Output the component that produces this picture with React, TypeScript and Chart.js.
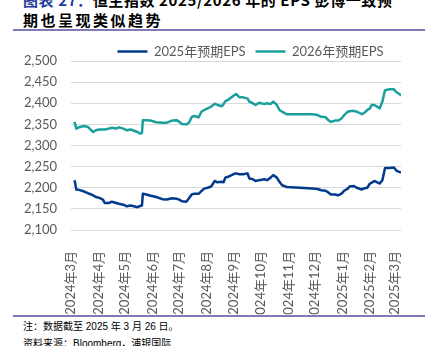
import React, { useEffect, useRef } from 'react';
import { Chart, registerables } from 'chart.js';

Chart.register(...registerables);

// days since 2024-03-01
const dayOffsets = [4, 6, 9, 15, 19, 23, 25, 28, 32, 36, 38, 43, 46, 51, 54, 59, 63, 67, 71, 75, 78, 80, 81, 85, 90, 96, 103, 108, 114, 119, 122, 125, 130, 133, 136, 139, 144, 147, 150, 154, 158, 162, 165, 170, 172, 174, 177, 181, 184, 186, 190, 194, 199, 201, 205, 208, 212, 218, 221, 225, 228, 232, 235, 238, 243, 258, 272, 278, 282, 287, 290, 293, 298, 301, 305, 308, 312, 314, 319, 322, 328, 331, 334, 337, 339, 342, 348, 351, 354, 359, 364, 367, 372];

const eps2025 = [2218, 2196, 2195, 2191, 2187, 2184, 2182, 2178, 2176, 2172, 2164, 2164, 2167, 2164, 2162, 2160, 2156, 2158, 2156, 2154, 2157, 2158, 2186, 2184, 2181, 2178, 2173, 2172, 2175, 2174, 2172, 2168, 2167, 2175, 2184, 2186, 2186, 2192, 2198, 2200, 2203, 2216, 2213, 2214, 2213, 2224, 2226, 2230, 2233, 2234, 2232, 2232, 2234, 2222, 2220, 2216, 2218, 2220, 2218, 2224, 2230, 2224, 2214, 2206, 2202, 2200, 2198, 2197, 2194, 2193, 2189, 2184, 2184, 2182, 2186, 2193, 2198, 2203, 2204, 2200, 2196, 2199, 2200, 2210, 2212, 2216, 2210, 2218, 2247, 2247, 2248, 2240, 2236];

const eps2026 = [2356, 2340, 2343, 2346, 2344, 2336, 2332, 2336, 2338, 2338, 2338, 2340, 2342, 2340, 2343, 2340, 2336, 2338, 2335, 2332, 2328, 2330, 2360, 2360, 2359, 2355, 2354, 2354, 2359, 2360, 2356, 2351, 2350, 2354, 2367, 2370, 2367, 2380, 2384, 2388, 2392, 2399, 2396, 2393, 2398, 2405, 2408, 2414, 2419, 2422, 2414, 2414, 2411, 2404, 2400, 2396, 2401, 2398, 2400, 2398, 2404, 2396, 2384, 2380, 2374, 2374, 2374, 2372, 2368, 2367, 2360, 2356, 2359, 2359, 2364, 2372, 2380, 2381, 2382, 2380, 2374, 2378, 2384, 2388, 2396, 2396, 2388, 2404, 2431, 2433, 2433, 2426, 2419];

const monthTickDays = [0, 31, 61, 92, 122, 153, 184, 214, 245, 275, 306, 337, 365];
const monthLabels = ['2024年3月', '2024年4月', '2024年5月', '2024年6月', '2024年7月', '2024年8月', '2024年9月', '2024年10月', '2024年11月', '2024年12月', '2025年1月', '2025年2月', '2025年3月'];

const seriesNames = ['2025年预期EPS', '2026年预期EPS'];

const FONT = "Lato, 'Noto Sans CJK SC', sans-serif";
const CJK = "'Noto Sans CJK SC', sans-serif";

export default function App() {
  const ref = useRef<HTMLCanvasElement>(null);

  useEffect(() => {
    if (!ref.current) return;
    const legendShift = {
      id: 'legendShift',
      afterLayout(chart: any) {
        const lg = chart.legend;
        if (lg) {
          lg.left = 100;
          lg.right = 401;
        }
      },
    };
    const chart = new Chart(ref.current, {
      type: 'line',
      data: {
        datasets: [
          {
            label: seriesNames[0],
            data: dayOffsets.map((d, i) => ({ x: d, y: eps2025[i] })),
            borderColor: '#003A8C',
            backgroundColor: '#003A8C',
            borderWidth: 2.5,
            pointRadius: 0,
            tension: 0,
            borderJoinStyle: 'round',
          },
          {
            label: seriesNames[1],
            data: dayOffsets.map((d, i) => ({ x: d, y: eps2026[i] })),
            borderColor: '#1AA09C',
            backgroundColor: '#1AA09C',
            borderWidth: 2.5,
            pointRadius: 0,
            tension: 0,
            borderJoinStyle: 'round',
          },
        ],
      },
      options: {
        animation: false,
        responsive: false,
        maintainAspectRatio: false,
        layout: { padding: { left: 0, right: 35, top: 0, bottom: 0 } },
        plugins: {
          legend: {
            position: 'top',
            maxHeight: 26,
            labels: {
              usePointStyle: true,
              pointStyle: 'line',
              pointStyleWidth: 30,
              boxHeight: 13,
              padding: 10,
              color: '#595959',
              font: { family: FONT, size: 13 },
            },
          },
          tooltip: { enabled: false },
        },
        scales: {
          x: {
            type: 'linear',
            min: 0,
            max: 372,
            grid: { display: false },
            border: { display: false },
            afterBuildTicks: (s: any) => {
              s.ticks = monthTickDays.map((v) => ({ value: v }));
            },
            afterFit: (s: any) => {
              s.height = 85;
            },
            ticks: {
              autoSkip: false,
              minRotation: 90,
              maxRotation: 90,
              padding: 13,
              color: '#595959',
              font: { family: FONT, size: 13 },
              callback: (_v: any, i: number) => monthLabels[i] ?? '',
            },
          },
          y: {
            min: 2100,
            max: 2500,
            ticks: {
              stepSize: 50,
              padding: 14,
              color: '#595959',
              font: { family: FONT, size: 13 },
              callback: (v: any) => Number(v).toLocaleString('en-US'),
            },
            grid: { color: '#d9d9d9', drawTicks: false, lineWidth: 1 },
            border: { display: false },
            afterFit: (s: any) => {
              s.width = 71;
            },
          },
        },
      },
      plugins: [legendShift],
    } as any);
    return () => chart.destroy();
  }, []);

  return (
    <div
      style={{
        position: 'absolute',
        left: 0,
        top: 0,
        width: 436,
        height: 346,
        overflow: 'hidden',
        background: '#fff',
      }}
    >
      <div
        style={{
          position: 'absolute',
          left: 23,
          top: -10,
          fontFamily: CJK,
          fontWeight: 700,
          fontSize: 15,
          lineHeight: '20px',
          letterSpacing: '0.6px',
          whiteSpace: 'nowrap',
          color: '#000',
        }}
      >
        <span style={{ color: '#1F3D99' }}>图表 27：</span>恒生指数 2025/2026 年的 EPS 彭博一致预
      </div>
      <div
        style={{
          position: 'absolute',
          left: 23,
          top: 10,
          fontFamily: CJK,
          fontWeight: 700,
          fontSize: 15,
          lineHeight: '20px',
          letterSpacing: '2.5px',
          whiteSpace: 'nowrap',
          color: '#000',
        }}
      >
        期也呈现类似趋势
      </div>
      <div style={{ position: 'absolute', left: 13, top: 29, width: 412, height: 1.5, background: '#7F7BB4' }} />
      <canvas
        ref={ref}
        width={436}
        height={280}
        style={{ position: 'absolute', left: 0, top: 35, width: 436, height: 280 }}
      />
      <div style={{ position: 'absolute', left: 13, top: 315, width: 412, height: 1.5, background: '#7F7BB4' }} />
      <div
        style={{
          position: 'absolute',
          left: 23,
          top: 320,
          fontFamily: "'Liberation Sans', 'Noto Sans CJK SC', sans-serif",
          fontSize: 10,
          lineHeight: '14px',
          whiteSpace: 'nowrap',
          color: '#000',
        }}
      >
        注：数据截至 2025 年 3 月 26 日。
      </div>
      <div
        style={{
          position: 'absolute',
          left: 23,
          top: 337,
          fontFamily: "'Liberation Sans', 'Noto Sans CJK SC', sans-serif",
          fontSize: 10,
          lineHeight: '14px',
          whiteSpace: 'nowrap',
          color: '#000',
        }}
      >
        资料来源：Bloomberg，浦银国际
      </div>
    </div>
  );
}
